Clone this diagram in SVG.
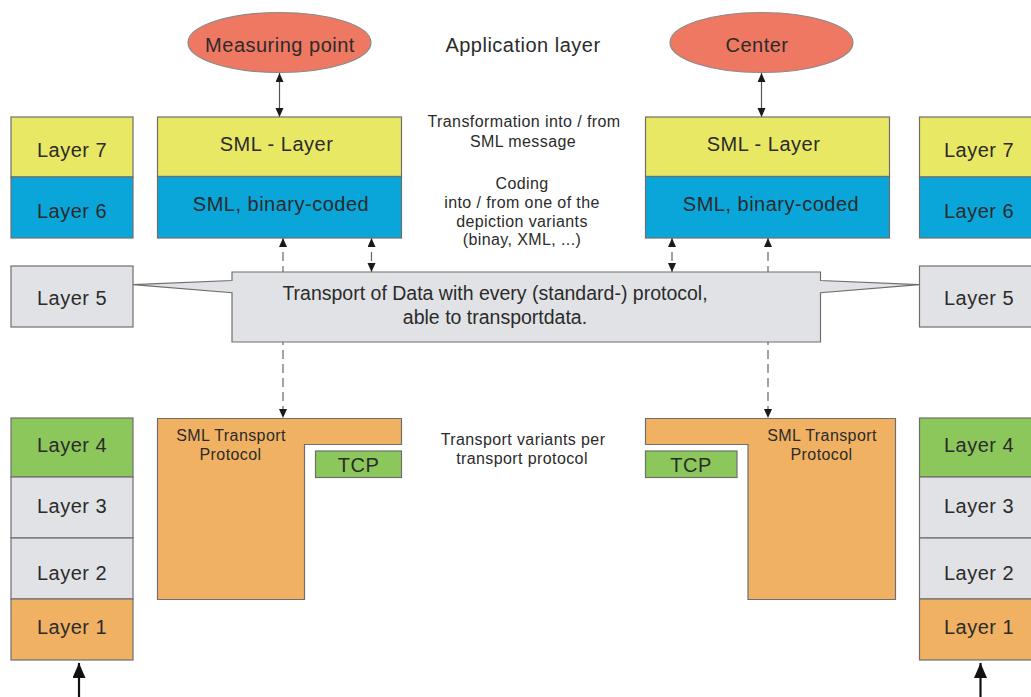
<svg xmlns="http://www.w3.org/2000/svg" width="1031" height="697" viewBox="0 0 1031 697">
<style>
  text { font-family: "Liberation Sans", Arial, sans-serif; fill: #2b2b2b; text-anchor: middle; }
  .big { font-size: 20px; letter-spacing: 0.5px; }
  .sm { font-size: 16px; letter-spacing: 0.4px; }
  .box { stroke: #6e6e6e; stroke-width: 1.2; }
  .yellow { fill: #e8e864; }
  .blue { fill: #0aa6da; }
  .green { fill: #8bc75a; }
  .gray { fill: #e1e2e6; }
  .orange { fill: #f0b162; }
  .salmon { fill: #ef7862; stroke: #8a8a8a; stroke-width: 1.2; }
  .solid { stroke: #555; stroke-width: 1.2; fill: none; }
  .dash { stroke: #666; stroke-width: 1.2; fill: none; stroke-dasharray: 9 5; }
  .thick { stroke: #111; stroke-width: 2.2; fill: none; }
</style>
<defs>
  <marker id="ah" markerUnits="userSpaceOnUse" markerWidth="10" markerHeight="10" refX="9" refY="4" orient="auto-start-reverse">
    <path d="M0,0 L9,4 L0,8 z" fill="#1a1a1a"/>
  </marker>
  <marker id="bigah" markerUnits="userSpaceOnUse" markerWidth="16" markerHeight="14" refX="15" refY="6.5" orient="auto">
    <path d="M0,0 L15,6.5 L0,13 z" fill="#111"/>
  </marker>
</defs>

<g id="connectors">
  <line class="solid" x1="279.5" y1="73" x2="279.5" y2="117" marker-start="url(#ah)" marker-end="url(#ah)"/>
  <line class="solid" x1="761.5" y1="73" x2="761.5" y2="117" marker-start="url(#ah)" marker-end="url(#ah)"/>
  <line class="dash" x1="283" y1="238" x2="283" y2="418" marker-start="url(#ah)" marker-end="url(#ah)"/>
  <line class="dash" x1="371.5" y1="238" x2="371.5" y2="272" marker-start="url(#ah)" marker-end="url(#ah)"/>
  <line class="dash" x1="672" y1="238" x2="672" y2="272" marker-start="url(#ah)" marker-end="url(#ah)"/>
  <line class="dash" x1="768" y1="238" x2="768" y2="418" marker-start="url(#ah)" marker-end="url(#ah)"/>
  <line class="thick" x1="79" y1="697" x2="79" y2="663" marker-end="url(#bigah)"/>
  <line class="thick" x1="980.5" y1="697" x2="980.5" y2="663" marker-end="url(#bigah)"/>
</g>

<g id="measuring-point">
  <ellipse class="salmon" cx="279.5" cy="42.5" rx="91.5" ry="30"/>
  <text class="big" x="280" y="52">Measuring point</text>
</g>
<g id="center">
  <ellipse class="salmon" cx="761.5" cy="42.5" rx="91.5" ry="30"/>
  <text class="big" x="757" y="52">Center</text>
</g>
<g id="application-layer-label">
  <text class="big" x="523" y="52">Application layer</text>
</g>

<g id="left-layer7">
  <rect class="box yellow" x="11" y="117" width="122" height="60"/>
  <text class="big" x="72" y="157">Layer 7</text>
</g>
<g id="left-layer6">
  <rect class="box blue" x="11" y="177" width="122" height="61"/>
  <text class="big" x="72" y="217.5">Layer 6</text>
</g>
<g id="left-layer5">
  <rect class="box gray" x="11" y="266" width="122" height="61"/>
  <text class="big" x="72" y="305">Layer 5</text>
</g>
<g id="left-layer4">
  <rect class="box green" x="11" y="418" width="122" height="59"/>
  <text class="big" x="72" y="452">Layer 4</text>
</g>
<g id="left-layer3">
  <rect class="box gray" x="11" y="477" width="122" height="61"/>
  <text class="big" x="72" y="513">Layer 3</text>
</g>
<g id="left-layer2">
  <rect class="box gray" x="11" y="538" width="122" height="61"/>
  <text class="big" x="72" y="579.5">Layer 2</text>
</g>
<g id="left-layer1">
  <rect class="box orange" x="11" y="599" width="122" height="61"/>
  <text class="big" x="72" y="634">Layer 1</text>
</g>

<g id="right-layer7">
  <rect class="box yellow" x="919.5" y="117" width="122" height="60"/>
  <text class="big" x="979" y="157">Layer 7</text>
</g>
<g id="right-layer6">
  <rect class="box blue" x="919.5" y="177" width="122" height="61"/>
  <text class="big" x="979" y="217.5">Layer 6</text>
</g>
<g id="right-layer5">
  <rect class="box gray" x="919.5" y="266" width="122" height="61"/>
  <text class="big" x="979" y="305">Layer 5</text>
</g>
<g id="right-layer4">
  <rect class="box green" x="919.5" y="418" width="122" height="59"/>
  <text class="big" x="979" y="452">Layer 4</text>
</g>
<g id="right-layer3">
  <rect class="box gray" x="919.5" y="477" width="122" height="61"/>
  <text class="big" x="979" y="513">Layer 3</text>
</g>
<g id="right-layer2">
  <rect class="box gray" x="919.5" y="538" width="122" height="61"/>
  <text class="big" x="979" y="579.5">Layer 2</text>
</g>
<g id="right-layer1">
  <rect class="box orange" x="919.5" y="599" width="122" height="61"/>
  <text class="big" x="979" y="634">Layer 1</text>
</g>

<g id="left-sml-layer">
  <rect class="box yellow" x="157.5" y="117" width="244" height="59.5"/>
  <text class="big" x="276.5" y="151">SML - Layer</text>
</g>
<g id="left-sml-binary">
  <rect class="box blue" x="157.5" y="176.5" width="244" height="61.5"/>
  <text class="big" x="281" y="211">SML, binary-coded</text>
</g>
<g id="right-sml-layer">
  <rect class="box yellow" x="645.5" y="117" width="244" height="59.5"/>
  <text class="big" x="763.5" y="151">SML - Layer</text>
</g>
<g id="right-sml-binary">
  <rect class="box blue" x="645.5" y="176.5" width="244" height="61.5"/>
  <text class="big" x="771" y="211">SML, binary-coded</text>
</g>

<g id="transport-box">
  <path class="box gray" d="M232,272 L820.5,272 L820.5,280.5 L919.5,284.7 L820.5,292.7 L820.5,342 L232,342 L232,292.7 L133,284.7 L232,280.5 Z"/>
  <text x="495" y="299.5" style="font-size:19.5px">Transport of Data with every (standard-) protocol,</text>
  <text x="495" y="323.5" style="font-size:19.5px">able to transportdata.</text>
</g>

<g id="notes">
  <text class="sm" x="524" y="127">Transformation into / from</text>
  <text class="sm" x="523" y="146.5">SML message</text>
  <text class="sm" x="522" y="189">Coding</text>
  <text class="sm" x="522" y="207.5">into / from one of the</text>
  <text class="sm" x="522" y="226.5">depiction variants</text>
  <text class="sm" x="522" y="245">(binay, XML, ...)</text>
  <text class="sm" x="523" y="445">Transport variants per</text>
  <text class="sm" x="522" y="463.5">transport protocol</text>
</g>

<g id="left-sml-transport">
  <path class="box orange" d="M157.5,418.5 L401.5,418.5 L401.5,444.5 L304.5,444.5 L304.5,599.5 L157.5,599.5 Z"/>
  <text class="sm" x="231" y="440.5">SML Transport</text>
  <text class="sm" x="230.5" y="459.5">Protocol</text>
</g>
<g id="left-tcp">
  <rect class="box green" x="315.5" y="451" width="86" height="26.5"/>
  <text class="big" x="358.5" y="471.5">TCP</text>
</g>
<g id="right-sml-transport">
  <path class="box orange" d="M645.5,418.5 L895.5,418.5 L895.5,599.5 L748,599.5 L748,444.5 L645.5,444.5 Z"/>
  <text class="sm" x="822" y="440.5">SML Transport</text>
  <text class="sm" x="821.5" y="459.5">Protocol</text>
</g>
<g id="right-tcp">
  <rect class="box green" x="645.5" y="451" width="91.5" height="26.5"/>
  <text class="big" x="691" y="471.5">TCP</text>
</g>
</svg>
